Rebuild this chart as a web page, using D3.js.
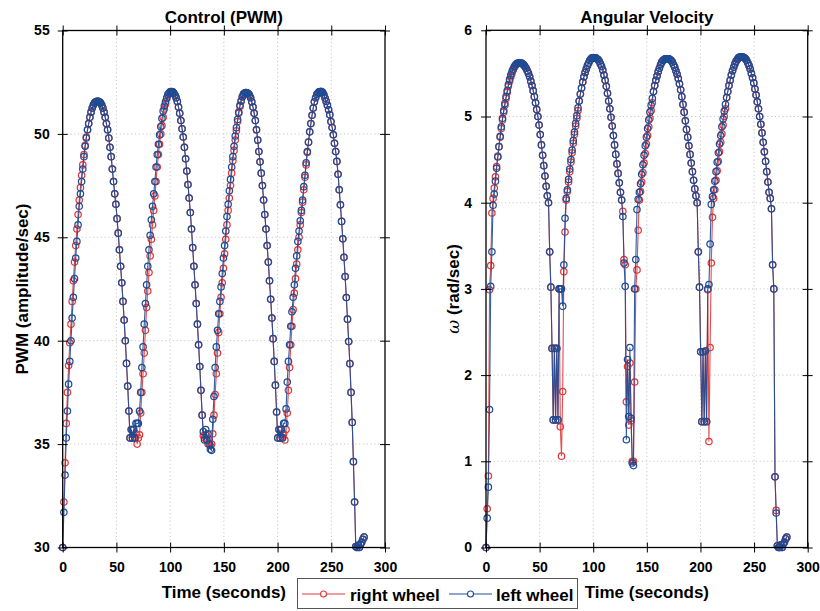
<!DOCTYPE html>
<html><head><meta charset="utf-8">
<script src="https://cdn.jsdelivr.net/npm/d3@7"></script>
<style>
html,body{margin:0;padding:0;background:#fff;}
svg{display:block;font-family:Arial,"Liberation Sans",Helvetica,sans-serif;}
</style></head><body>
<svg id="chart" width="820" height="611"></svg>
<script>
// ---- data ----
const SAMPLE_PERIOD = 1.1; // seconds between logged samples
const seriesNames = ["right wheel", "left wheel"];
const seriesColors = ["#e0383a", "#1b4c96"];
const timeTicks = [0, 50, 100, 150, 200, 250, 300];
const pwmTicks = [30, 35, 40, 45, 50, 55];
const omegaTicks = [0, 1, 2, 3, 4, 5, 6];

const pwmRight = [
30.0,32.2,34.1,36.0,37.5,38.8,39.9,40.8,41.9,42.9,43.8,44.6,45.4,46.1,46.8,47.4,48.0,48.5,49.0,49.45,49.85,50.2,50.5,50.8,51.05,51.25,51.4,51.5,51.55,51.58,51.58,
51.55,51.5,51.4,51.25,51.05,50.8,50.5,50.2,49.8,49.35,48.9,48.3,47.7,47.1,46.6,45.9,45.2,44.4,43.6,42.8,
41.9,41.0,40.0,38.9,37.8,36.6,35.3,
35.7,35.3,35.7,35.3,35.5,35.0,35.3,
35.45,36.5,37.5,38.4,39.4,40.5,41.6,42.4,43.3,44.1,44.9,45.6,46.3,47.0,47.7,48.4,49.0,49.5,50.0,50.4,50.8,51.2,51.45,51.7,51.88,51.98,52.03,52.05,
52.03,51.97,51.88,51.75,51.57,51.3,51.0,50.65,50.25,49.85,49.35,48.8,48.2,47.55,46.9,46.2,45.4,44.5,43.6,42.7,41.8,40.8,39.8,38.75,37.6,36.4,
35.4,35.3,35.45,35.2,35.0,35.2,34.93,35.0,
35.5,36.4,37.4,
38.4,39.4,40.4,41.3,42.1,42.8,43.5,44.2,44.9,45.6,46.3,46.9,47.5,48.1,48.7,49.2,49.7,50.15,50.6,51.0,51.33,51.58,51.78,51.92,51.98,52.0,
51.99,51.95,51.88,51.75,51.55,51.3,51.0,50.65,50.2,49.7,49.15,48.65,48.1,47.5,46.8,46.1,45.4,44.6,43.8,42.9,42.0,41.1,40.1,39.0,37.85,36.55,
35.3,35.7,35.3,35.7,35.3,35.5,35.2,
35.7,36.5,37.6,38.7,39.8,40.7,41.5,
42.3,43.0,43.7,44.4,45.0,45.6,46.2,46.7,47.3,47.9,48.5,49.1,49.6,50.1,50.5,50.9,51.25,51.55,51.75,51.9,51.98,52.03,52.05,52.05,
52.0,51.89,51.73,51.57,51.38,51.17,50.93,50.6,50.31,49.96,49.55,49.15,48.67,48.05,47.3,46.57,45.77,44.93,44.03,43.1,42.09,41.04,39.96,38.89,37.5,36.05,34.15,32.2,30.05,
30.0,30.1,30.0,30.15,30.25,30.4,30.5
];

const pwmLeft = [
30.0,31.7,33.5,35.3,36.6,37.9,39.0,40.0,41.1,42.1,43.0,44.0,44.8,45.6,46.5,47.1,47.7,48.3,48.9,49.4,49.8,50.2,50.5,50.8,51.05,51.25,51.4,51.5,51.55,51.58,51.58,
51.55,51.5,51.4,51.25,51.05,50.8,50.5,50.2,49.8,49.35,48.9,48.3,47.7,47.1,46.6,45.9,45.2,44.4,43.6,42.8,
41.9,41.0,40.0,38.9,37.8,36.6,35.3,
35.7,35.3,35.7,35.3,36.0,36.0,36.0,
36.6,37.5,38.7,39.7,40.8,41.8,42.7,43.6,44.4,45.1,45.85,46.5,47.1,47.7,48.4,49.0,49.5,49.95,50.35,50.75,51.1,51.35,51.55,51.75,51.9,51.98,52.03,52.05,
52.03,51.97,51.88,51.75,51.57,51.3,51.0,50.65,50.25,49.85,49.35,48.8,48.2,47.55,46.9,46.2,45.4,44.5,43.6,42.7,41.8,40.8,39.8,38.75,37.6,36.4,
35.6,35.2,35.7,35.2,35.5,35.0,34.75,34.7,
36.2,37.3,38.7,
39.7,40.5,41.3,41.9,42.6,43.25,44.0,44.6,45.3,46.0,46.6,47.25,47.8,48.4,48.9,49.4,49.9,50.3,50.7,51.05,51.38,51.6,51.8,51.92,51.98,52.0,
51.99,51.95,51.88,51.75,51.55,51.3,51.0,50.65,50.2,49.7,49.15,48.65,48.1,47.5,46.8,46.1,45.4,44.6,43.8,42.9,42.0,41.1,40.1,39.0,37.85,36.55,
35.3,35.7,35.3,35.7,35.3,36.0,36.0,
36.7,38.0,39.0,39.8,40.7,41.4,42.1,
42.7,43.5,44.1,44.8,45.3,45.8,46.3,46.8,47.45,48.0,48.6,49.15,49.6,50.1,50.5,50.9,51.25,51.55,51.75,51.9,51.98,52.03,52.05,52.05,
52.0,51.89,51.73,51.57,51.38,51.17,50.93,50.6,50.31,49.96,49.55,49.15,48.67,48.05,47.3,46.57,45.77,44.93,44.03,43.1,42.09,41.04,39.96,38.89,37.5,36.05,34.15,32.2,30.05,
30.0,30.1,30.0,30.15,30.25,30.4,30.5
];

const omegaRight = [
0.0,0.45,0.83,2.99,3.27,3.88,4.05,4.17,4.3,4.42,4.54,4.65,4.76,4.86,4.96,5.05,5.13,5.21,5.28,5.35,5.41,5.46,5.5,5.54,5.57,5.59,5.61,5.62,5.62,
5.62,5.62,5.61,5.6,5.58,5.56,5.53,5.5,5.46,5.41,5.36,5.3,5.23,5.16,5.08,5.0,4.9,4.79,4.67,4.55,4.43,4.31,4.19,4.08,4.0,3.43,3.02,
2.31,1.48,2.31,1.48,2.31,1.48,3.0,1.4,1.06,1.81,3.2,3.66,
4.03,4.13,4.24,4.36,4.47,4.58,4.69,4.79,4.89,4.98,5.07,5.18,5.26,5.33,5.4,5.46,5.51,5.55,5.59,5.62,5.65,5.67,5.68,5.68,5.68,
5.68,5.67,5.66,5.64,5.61,5.58,5.54,5.48,5.42,5.35,5.27,5.18,5.09,4.99,4.89,4.78,4.67,4.56,4.45,4.34,4.23,4.12,4.03,3.9,3.34,3.28,
1.69,2.1,1.42,2.14,1.47,1.0,1.0,1.92,3.0,3.22,3.68,
4.03,4.13,4.24,4.35,4.46,4.57,4.68,4.78,4.88,4.98,5.07,5.16,5.29,5.36,5.42,5.47,5.52,5.56,5.6,5.63,5.65,5.66,5.67,5.67,5.67,5.67,
5.66,5.65,5.63,5.6,5.57,5.53,5.49,5.44,5.38,5.31,5.23,5.14,5.05,4.95,4.85,4.76,4.66,4.56,4.46,4.36,4.26,4.16,4.08,4.0,3.43,3.02,
2.27,1.46,2.27,1.46,2.28,1.46,2.99,1.23,2.32,3.3,3.83,4.05,
4.15,4.26,4.37,4.48,4.59,4.7,4.8,4.9,5.0,5.09,5.22,5.29,5.36,5.42,5.48,5.53,5.57,5.61,5.64,5.66,5.68,5.69,5.69,5.69,5.69,
5.68,5.67,5.65,5.62,5.59,5.55,5.5,5.45,5.39,5.32,5.25,5.17,5.09,5.0,4.91,4.81,4.7,4.59,4.48,4.36,4.24,4.12,4.05,3.93,3.28,3.0,
0.82,0.43,0.02,0.0,0.0,0.03,0.0,0.04,0.06,0.1,0.12
];

const omegaLeft = [
0.0,0.34,0.70,1.60,3.03,3.43,3.97,4.1,4.25,4.4,4.53,4.65,4.77,4.88,4.98,5.07,5.15,5.23,5.3,5.37,5.43,5.48,5.52,5.55,5.58,5.6,5.61,5.62,5.62,
5.62,5.62,5.61,5.6,5.58,5.56,5.53,5.5,5.46,5.41,5.36,5.3,5.23,5.16,5.08,5.0,4.9,4.79,4.67,4.55,4.43,4.31,4.19,4.08,4.0,3.43,3.02,
2.31,1.48,2.31,1.48,2.31,1.48,3.0,3.0,3.0,2.8,3.28,3.82,
4.05,4.15,4.27,4.39,4.5,4.61,4.72,4.82,4.92,5.01,5.1,5.18,5.26,5.33,5.4,5.46,5.51,5.55,5.59,5.62,5.65,5.67,5.68,5.68,5.68,
5.68,5.67,5.66,5.64,5.61,5.58,5.54,5.48,5.42,5.35,5.27,5.18,5.09,4.99,4.89,4.78,4.67,4.56,4.45,4.34,4.23,4.12,4.03,3.84,3.3,3.03,
1.25,2.18,1.52,2.32,1.5,0.98,0.95,3.0,3.34,3.92,4.04,
4.12,4.22,4.33,4.44,4.55,4.66,4.76,4.86,4.96,5.05,5.13,5.21,5.29,5.36,5.42,5.47,5.52,5.56,5.6,5.63,5.65,5.66,5.67,5.67,5.67,5.67,
5.66,5.65,5.63,5.6,5.57,5.53,5.49,5.44,5.38,5.31,5.23,5.14,5.05,4.95,4.85,4.76,4.66,4.56,4.46,4.36,4.26,4.16,4.08,4.0,3.43,3.02,
2.27,1.46,2.27,1.46,2.28,1.46,3.0,3.05,3.52,3.98,4.07,4.15,
4.25,4.36,4.47,4.58,4.68,4.78,4.88,4.97,5.06,5.14,5.22,5.29,5.36,5.42,5.48,5.53,5.57,5.61,5.64,5.66,5.68,5.69,5.69,5.69,5.69,
5.68,5.67,5.65,5.62,5.59,5.55,5.5,5.45,5.39,5.32,5.25,5.17,5.09,5.0,4.91,4.81,4.7,4.59,4.48,4.36,4.24,4.12,4.05,3.93,3.28,3.0,
0.82,0.4,0.02,0.0,0.0,0.03,0.0,0.04,0.06,0.1,0.12
];

// ---- drawing ----
const svg = d3.select("#chart");
const FONT = 'Arial, "Liberation Sans", Helvetica, sans-serif';
const intFmt = d3.format("d");

function panel(cfg) {
  const g = svg.append("g");
  const x = d3.scaleLinear().domain([0, 300]).range([cfg.x0, cfg.x1]);
  const y = d3.scaleLinear().domain(cfg.yDomain).range([cfg.y1, cfg.y0]);

  // grid
  const grid = g.append("g").attr("stroke", "#c8c8c8").attr("stroke-width", 1)
    .attr("stroke-dasharray", "1.2,2.6");
  grid.selectAll("line.v").data(timeTicks.slice(1, -1)).join("line").attr("class", "v")
    .attr("x1", d => x(d)).attr("x2", d => x(d)).attr("y1", cfg.y0).attr("y2", cfg.y1);
  grid.selectAll("line.h").data(cfg.yTicks.slice(1, -1)).join("line").attr("class", "h")
    .attr("x1", cfg.x0).attr("x2", cfg.x1).attr("y1", d => y(d)).attr("y2", d => y(d));

  // series: right wheel first, left wheel on top
  [cfg.right, cfg.left].forEach((vals, k) => {
    const pts = vals.map((v, i) => [i * SAMPLE_PERIOD, v]);
    g.append("path").datum(pts)
      .attr("d", d3.line().x(d => x(d[0])).y(d => y(d[1])))
      .attr("fill", "none").attr("stroke", seriesColors[k])
      .attr("stroke-width", 1.1).attr("stroke-opacity", 0.9);
    g.append("g").selectAll("circle").data(pts).join("circle")
      .attr("cx", d => x(d[0])).attr("cy", d => y(d[1])).attr("r", 3.2)
      .attr("fill", "none").attr("stroke", seriesColors[k])
      .attr("stroke-width", 1.25);
  });

  // axes (ticks crossing the box on all sides)
  const styleAxis = sel => {
    sel.select(".domain").remove();
    sel.selectAll("text").attr("font-size", 14).attr("font-weight", "bold")
      .attr("font-family", FONT).attr("fill", "#000");
    sel.selectAll("line").attr("stroke", "#000");
  };
  const none = () => "";
  g.append("g").attr("transform", `translate(0,${cfg.y1})`)
    .call(d3.axisBottom(x).tickValues(timeTicks).tickFormat(intFmt).tickSizeInner(5).tickSizeOuter(0).tickPadding(10)).call(styleAxis);
  g.append("g").attr("transform", `translate(0,${cfg.y1})`)
    .call(d3.axisTop(x).tickValues(timeTicks).tickSizeInner(5).tickSizeOuter(0).tickFormat(none)).call(styleAxis);
  g.append("g").attr("transform", `translate(0,${cfg.y0})`)
    .call(d3.axisTop(x).tickValues(timeTicks).tickSizeInner(5).tickSizeOuter(0).tickFormat(none)).call(styleAxis);
  g.append("g").attr("transform", `translate(0,${cfg.y0})`)
    .call(d3.axisBottom(x).tickValues(timeTicks).tickSizeInner(5).tickSizeOuter(0).tickFormat(none)).call(styleAxis);
  g.append("g").attr("transform", `translate(${cfg.x0},0)`)
    .call(d3.axisLeft(y).tickValues(cfg.yTicks).tickFormat(intFmt).tickSizeInner(5).tickSizeOuter(0).tickPadding(cfg.yPad)).call(styleAxis);
  g.append("g").attr("transform", `translate(${cfg.x0},0)`)
    .call(d3.axisRight(y).tickValues(cfg.yTicks).tickSizeInner(5).tickSizeOuter(0).tickFormat(none)).call(styleAxis);
  g.append("g").attr("transform", `translate(${cfg.x1},0)`)
    .call(d3.axisRight(y).tickValues(cfg.yTicks).tickSizeInner(5).tickSizeOuter(0).tickFormat(none)).call(styleAxis);
  g.append("g").attr("transform", `translate(${cfg.x1},0)`)
    .call(d3.axisLeft(y).tickValues(cfg.yTicks).tickSizeInner(5).tickSizeOuter(0).tickFormat(none)).call(styleAxis);

  // box
  g.append("rect").attr("x", cfg.x0).attr("y", cfg.y0)
    .attr("width", cfg.x1 - cfg.x0).attr("height", cfg.y1 - cfg.y0)
    .attr("fill", "none").attr("stroke", "#000").attr("stroke-width", 1.3);

  // title & x label
  const cx = (cfg.x0 + cfg.x1) / 2;
  g.append("text").attr("x", cx).attr("y", 22.5).attr("text-anchor", "middle")
    .attr("font-size", 17).attr("font-weight", "bold").text(cfg.title);
  g.append("text").attr("x", cx).attr("y", 597.5).attr("text-anchor", "middle")
    .attr("font-size", 17).attr("font-weight", "bold").text("Time (seconds)");

  // y label
  const cy = (cfg.y0 + cfg.y1) / 2;
  const yl = g.append("text").attr("transform", `translate(${cfg.yLabelX},${cy}) rotate(-90)`)
    .attr("text-anchor", "middle").attr("font-size", 17).attr("font-weight", "bold");
  cfg.yLabel(yl);
}

panel({
  x0: 62.7, x1: 385, y0: 30.5, y1: 547.5,
  yDomain: [30, 55], yTicks: pwmTicks, yPad: 8,
  right: pwmRight, left: pwmLeft,
  title: "Control (PWM)", yLabelX: 28,
  yLabel: t => t.text("PWM (amplitude/sec)")
});

panel({
  x0: 486, x1: 807.7, y0: 30.3, y1: 547.5,
  yDomain: [0, 6], yTicks: omegaTicks, yPad: 9,
  right: omegaRight, left: omegaLeft,
  title: "Angular Velocity", yLabelX: 459,
  yLabel: t => {
    t.append("tspan").attr("font-style", "italic").attr("font-weight", "normal")
      .attr("font-family", '"DejaVu Serif", "Liberation Serif", serif').text("ω");
    t.append("tspan").text(" (rad/sec)");
  }
});

// legend
const lg = svg.append("g");
lg.append("rect").attr("x", 297.5).attr("y", 578.5).attr("width", 280).attr("height", 30)
  .attr("fill", "#fff").attr("stroke", "#555").attr("stroke-width", 1);
const legendItems = [
  { lx0: 302, lx1: 345, tx: 350 },
  { lx0: 449, lx1: 492, tx: 496 }
];
legendItems.forEach((it, k) => {
  lg.append("line").attr("x1", it.lx0).attr("x2", it.lx1).attr("y1", 594).attr("y2", 594)
    .attr("stroke", seriesColors[k]).attr("stroke-width", 1);
  lg.append("circle").attr("cx", (it.lx0 + it.lx1) / 2).attr("cy", 594).attr("r", 3)
    .attr("fill", "#fff").attr("stroke", seriesColors[k]).attr("stroke-width", 1.1);
  lg.append("text").attr("x", it.tx).attr("y", 601).attr("font-size", 17)
    .attr("font-weight", "bold").attr("fill", "#000").text(seriesNames[k]);
});
</script>
</body></html>
